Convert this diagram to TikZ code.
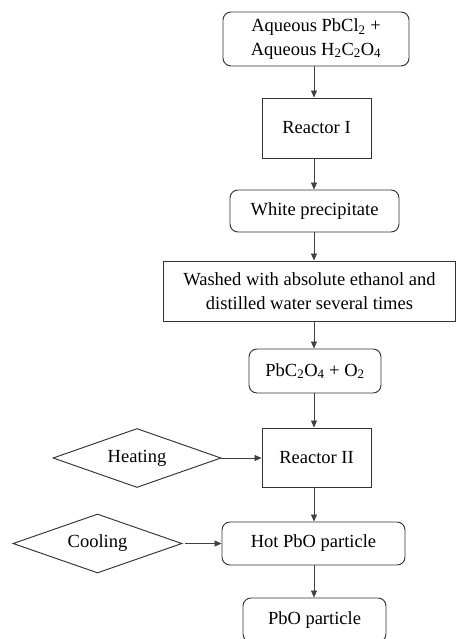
\documentclass[tikz,border=0pt]{standalone}
\usepackage{fontspec}
\setmainfont{Liberation Serif}
\newfontfamily\tnr{Liberation Serif}
\usetikzlibrary{arrows.meta,shapes.geometric}
\newcommand{\sbs}[1]{\textsubscript{#1}}
\begin{document}
\begin{tikzpicture}[x=1pt,y=-1pt,
  every node/.style={font=\tnr\fontsize{18.5}{23.5}\selectfont, align=center, inner sep=0pt, line width=0.95pt, draw=black!80},
  rbox/.style={rectangle, rounded corners=8pt},
  sbox/.style={rectangle},
  dbox/.style={diamond, aspect=2.85},
  arr/.style={line width=0.7pt, draw=black!75, -{Triangle[length=7pt,width=6pt]}}]
\useasboundingbox (0,0) rectangle (456,639);
\clip (0,0) rectangle (456,639);
\coordinate (col) at (314,0);
\node[rbox, minimum width=186pt, minimum height=54pt] (b1) at (316,39) {Aqueous PbCl\sbs{2} +\\Aqueous H\sbs{2}C\sbs{2}O\sbs{4}};
\node[sbox, minimum width=109pt, minimum height=60pt] (r1) at (316.5,128) {Reactor I};
\node[rbox, minimum width=169pt, minimum height=42pt] (wp) at (314.5,211) {White precipitate};
\node[sbox, minimum width=292pt, minimum height=60pt] (wash) at (309.5,291) {Washed with absolute ethanol and\\distilled water several times};
\node[rbox, minimum width=132pt, minimum height=44pt] (pb) at (315,371) {PbC\sbs{2}O\sbs{4} + O\sbs{2}};
\node[sbox, minimum width=109pt, minimum height=59pt] (r2) at (316.5,457.5) {Reactor II};
\node[dbox, minimum width=168pt, minimum height=59pt] (heat) at (137,458) {Heating};
\node[rbox, minimum width=183pt, minimum height=43pt] (hot) at (313.5,543.5) {Hot PbO particle};
\node[dbox, minimum width=169pt, minimum height=59pt] (cool) at (97.5,543.5) {Cooling};
\node[rbox, minimum width=143pt, minimum height=44pt] (pbo) at (314.5,620) {PbO particle};
\draw[arr] (b1.south -| col) -- (r1.north -| col);
\draw[arr] (r1.south -| col) -- (wp.north -| col);
\draw[arr] (wp.south -| col) -- (wash.north -| col);
\draw[arr] (wash.south -| col) -- (pb.north -| col);
\draw[arr] (pb.south -| col) -- (r2.north -| col);
\draw[arr] (r2.south -| col) -- (hot.north -| col);
\draw[arr] (hot.south -| col) -- (pbo.north -| col);
\draw[arr] (heat.east) -- (heat.east -| r2.west);
\draw[arr] ([xshift=3pt]cool.east) -- (cool.east -| hot.west);
\end{tikzpicture}
\end{document}
